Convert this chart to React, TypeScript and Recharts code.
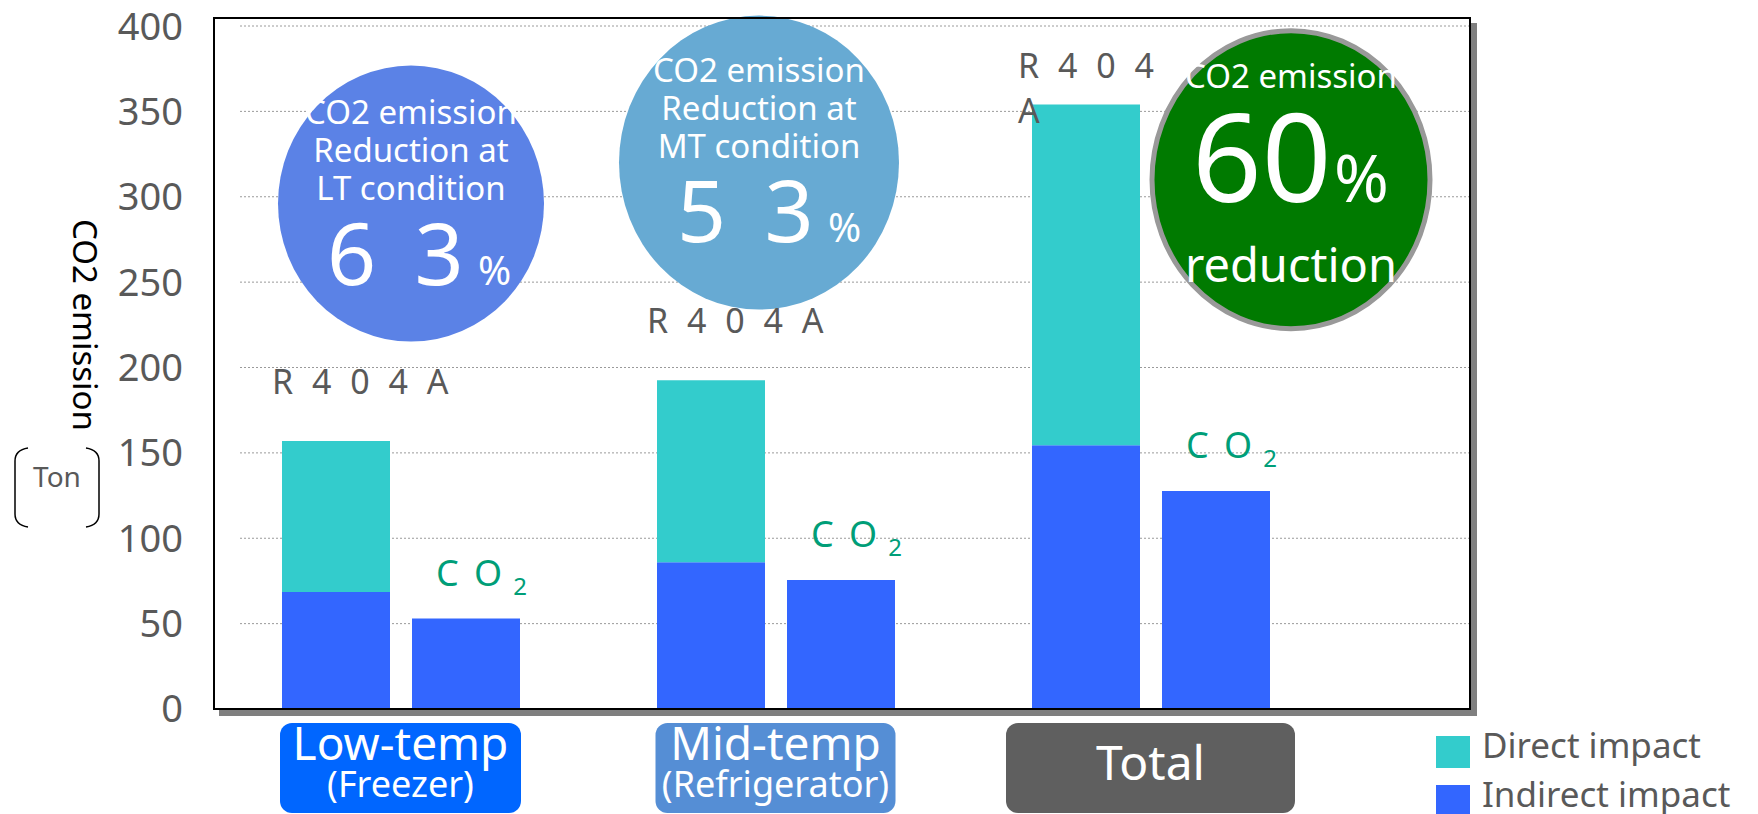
import { BarChart, Bar, XAxis, YAxis, CartesianGrid, Legend, LabelList, ReferenceDot } from "recharts";

// values (tons of CO2)
const categories = ["Low-temp", "Mid-temp", "Total"];
const subLabels = ["(Freezer)", "(Refrigerator)", ""];
const r404aIndirect = [68.5, 86, 154.5];
const r404aDirect = [88.5, 106.5, 199.5];
const co2Indirect = [53, 75.5, 127.7];
const yTicks = [0, 50, 100, 150, 200, 250, 300, 350, 400];
const refrigerants = ["R404A", "CO2"];
const reductions = ["6 3", "5 3", "60"];
const bubbleLines = [
  ["CO2 emission", "Reduction at", "LT condition"],
  ["CO2 emission", "Reduction at", "MT condition"],
  ["CO2 emission"],
];
const bubbleFoot = ["", "", "reduction"];

const data = categories.map((name, i) => ({
  name,
  r404aIndirect: r404aIndirect[i],
  r404aDirect: r404aDirect[i],
  co2Indirect: co2Indirect[i],
}));

const FONT = "'Noto Sans', 'DejaVu Sans', sans-serif";
const GREY = "#595959";
const CYAN = "#33CCCC";
const BLUE = "#3366FF";
const CO2_GREEN = "#009E78";

const BOXES = [
  { w: 241, fill: "#0066FF" },
  { w: 240, fill: "#558ED5" },
  { w: 289, fill: "#5F5F5F" },
];

// circle callouts, centre given in axis units + pixel shift
const BUBBLES = [
  { at: 296, dx: 10.5, rx: 133, ry: 138, fill: "#5B82E6", stroke: "none", head: -80, numX: -84, numY: 81, numSize: 86, gap: 8, pctX: 67, pctSize: 40, foot: 0, footSize: 0 },
  { at: 320, dx: -16.5, rx: 140, ry: 147, fill: "#67AAD3", stroke: "none", head: -81, numX: -82, numY: 79, numSize: 86, gap: 8, pctX: 69, pctSize: 40, foot: 0, footSize: 0 },
  { at: 310, dx: 140.5, rx: 139, ry: 149, fill: "#007A00", stroke: "#999999", head: -92, numX: -99, numY: 22, numSize: 122, gap: 0, pctX: 43, pctSize: 66, foot: 102, footSize: 47 },
];

function spaced(s: string) {
  return s.split("").join(" ");
}

function Bubble(props: any) {
  const { cx, cy, i } = props;
  const b = BUBBLES[i];
  const x = cx + b.dx;
  return (
    <g>
      <ellipse cx={x} cy={cy} rx={b.rx} ry={b.ry} fill={b.fill} stroke={b.stroke} strokeWidth={5} />
      {bubbleLines[i].map((t, k) => (
        <text key={k} x={x} y={cy + b.head + k * 38} textAnchor="middle" fontSize={33} fill="#fff">
          {t}
        </text>
      ))}
      <text x={x + b.numX} y={cy + b.numY} fontSize={b.numSize} fill="#fff" letterSpacing={b.gap}>
        {reductions[i]}
      </text>
      <text x={x + b.pctX} y={cy + b.numY} fontSize={b.pctSize} fill="#fff">
        %
      </text>
      {bubbleFoot[i] && (
        <text x={x} y={cy + b.foot} textAnchor="middle" fontSize={b.footSize} fill="#fff">
          {bubbleFoot[i]}
        </text>
      )}
    </g>
  );
}

function CategoryTick(props: any) {
  const { x, y, payload } = props;
  const i = payload.index;
  const box = BOXES[i];
  const top = y + 14;
  const sub = subLabels[i];
  return (
    <g>
      <rect x={x - box.w / 2} y={top} width={box.w} height={90} rx={12} fill={box.fill} />
      {sub ? (
        <>
          <text x={x} y={top + 37} textAnchor="middle" fontSize={46} fill="#fff">
            {payload.value}
          </text>
          <text x={x} y={top + 74} textAnchor="middle" fontSize={36} fill="#fff">
            {sub}
          </text>
        </>
      ) : (
        <text x={x} y={top + 57} textAnchor="middle" fontSize={48} fill="#fff">
          {payload.value}
        </text>
      )}
    </g>
  );
}

function R404aLabel(props: any) {
  const { x, y, index } = props;
  const txt = spaced(refrigerants[0]);
  if (index === categories.length - 1) {
    // narrow text box in the original: wraps before the A
    const parts = txt.split(" ");
    return (
      <text x={x - 14} y={y - 27} fontSize={34} fill={GREY} letterSpacing={5}>
        <tspan x={x - 14}>{parts.slice(0, -1).join(" ")}</tspan>
        <tspan x={x - 14} dy={45}>{parts[parts.length - 1]}</tspan>
      </text>
    );
  }
  return (
    <text x={x - 10} y={y - 47} fontSize={34} fill={GREY} letterSpacing={5}>
      {txt}
    </text>
  );
}

function Co2Label(props: any) {
  const { x, y } = props;
  const name = refrigerants[1];
  return (
    <text x={x + 24} y={y - 33} fontSize={36} fill={CO2_GREEN} letterSpacing={3}>
      {spaced(name.slice(0, -1))}
      <tspan fontSize={24} dx={8} dy={9}>
        {name.slice(-1)}
      </tspan>
    </text>
  );
}

function LegendBox(props: any) {
  const items = (props.payload ?? [])
    .filter((p: any) => p.type !== "none")
    .slice()
    .sort((a: any, b: any) => String(a.value).localeCompare(String(b.value)));
  return (
    <div>
      {items.map((it: any) => (
        <div key={it.value} style={{ display: "flex", alignItems: "flex-start", height: 49 }}>
          <span style={{ width: 34, height: 32, marginTop: 16, marginRight: 12, background: it.color }} />
          <span style={{ fontSize: 35, lineHeight: "49px", color: GREY, whiteSpace: "nowrap" }}>{it.value}</span>
        </div>
      ))}
    </div>
  );
}

const gridLine = (p: any) => (
  <line
    key={p.key ?? `h-${p.index}`}
    x1={p.x1 + 27}
    y1={p.y1}
    x2={p.x2}
    y2={p.y2}
    stroke="#9a9a9a"
    strokeWidth={1}
    strokeDasharray="2 2"
  />
);

export default function App() {
  return (
    <div style={{ position: "absolute", left: 0, top: 0, width: 1758, height: 814, fontFamily: FONT, background: "#fff" }}>
      <BarChart
        width={1758}
        height={814}
        data={data}
        margin={{ top: 26, right: 287, bottom: 0, left: 0 }}
        barGap={22}
        barSize={108}
      >
        <CartesianGrid vertical={false} horizontal={gridLine} />
        <XAxis
          dataKey="name"
          height={105}
          axisLine={false}
          tickLine={false}
          tickSize={0}
          tickMargin={0}
          interval={0}
          padding={{ left: 0, right: 133 }}
          tick={(p: any) => <CategoryTick {...p} />}
        />
        <YAxis
          width={213}
          domain={[0, 400]}
          ticks={yTicks}
          interval={0}
          axisLine={false}
          tickLine={false}
          tickSize={0}
          tickMargin={30}
          tick={{ fill: GREY, fontSize: 38 }}
        />
        <Bar dataKey="r404aIndirect" name="Indirect impact" stackId="r404a" fill={BLUE} isAnimationActive={false} />
        <Bar dataKey="r404aDirect" name="Direct impact" stackId="r404a" fill={CYAN} isAnimationActive={false}>
          <LabelList dataKey="r404aDirect" content={(p: any) => <R404aLabel {...p} />} />
        </Bar>
        <Bar dataKey="co2Indirect" name="CO2 indirect" stackId="co2" fill={BLUE} legendType="none" isAnimationActive={false}>
          <LabelList dataKey="co2Indirect" content={(p: any) => <Co2Label {...p} />} />
        </Bar>
        {BUBBLES.map((b, i) => (
          <ReferenceDot
            key={i}
            x={categories[i]}
            y={b.at}
            r={1}
            ifOverflow="visible"
            shape={(p: any) => <Bubble {...p} i={i} />}
          />
        ))}
        <Legend
          layout="vertical"
          align="center"
          verticalAlign="middle"
          wrapperStyle={{ left: 1436, top: 720, width: 322 }}
          content={(p: any) => <LegendBox {...p} />}
        />
      </BarChart>

      {/* plot frame with its drop shadow */}
      <div
        style={{
          position: "absolute",
          left: 213,
          top: 17,
          width: 1258,
          height: 693,
          boxSizing: "border-box",
          border: "2px solid #000",
          boxShadow: "6px 6px 0 #7f7f7f",
          pointerEvents: "none",
        }}
      />

      {/* axis title and unit */}
      <svg width={1758} height={814} style={{ position: "absolute", left: 0, top: 0, pointerEvents: "none" }}>
        <text
          x={85}
          y={325}
          transform="rotate(90 85 325)"
          textAnchor="middle"
          dominantBaseline="central"
          fontSize={33}
          fill="#000"
        >
          CO2 emission
        </text>
        <path d="M28 448 Q15 450 15 461 L15 514 Q15 525 28 527" fill="none" stroke="#000" strokeWidth={1.5} />
        <path d="M86 448 Q99 450 99 461 L99 514 Q99 525 86 527" fill="none" stroke="#000" strokeWidth={1.5} />
        <text x={57} y={487} textAnchor="middle" fontSize={28} fill={GREY}>
          Ton
        </text>
      </svg>
    </div>
  );
}
